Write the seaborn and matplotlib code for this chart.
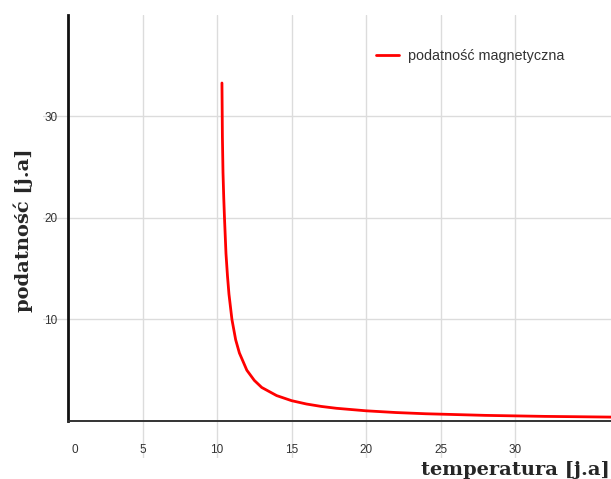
import matplotlib
matplotlib.use('Agg')
import matplotlib.pyplot as plt
import matplotlib.transforms as mtransforms
import seaborn as sns
import pandas as pd

# podatnosc magnetyczna vs temperatura
temperatura = [10.33, 10.36, 10.40, 10.45, 10.50, 10.60, 10.70, 10.80, 11.0, 11.25,
               11.5, 12.0, 12.5, 13.0, 14.0, 15.0, 16.0, 17.0, 18.0, 20.0,
               22.0, 24.0, 26.0, 28.0, 30.0, 32.0, 34.0, 36.5]
podatnosc = [33.3, 28.0, 24.5, 22.0, 20.0, 16.5, 14.3, 12.5, 10.0, 8.0,
             6.7, 5.0, 4.0, 3.3, 2.5, 2.0, 1.67, 1.43, 1.25, 1.0,
             0.83, 0.71, 0.63, 0.55, 0.5, 0.45, 0.42, 0.38]
x_ticks = [0, 5, 10, 15, 20, 25, 30]
y_ticks = [10, 20, 30]

df = pd.DataFrame({'T': temperatura, 'chi': podatnosc})

sns.set_style('white')
plt.rcParams['font.family'] = ['Liberation Sans', 'DejaVu Sans']

fig = plt.figure(figsize=(6.11, 4.79), dpi=100)
ax = fig.add_axes([43/611, 21/479, 568/611, 443/479])

sns.lineplot(data=df, x='T', y='chi', color='#ff0000', linewidth=2,
             label='podatność magnetyczna', ax=ax)

ax.set_xlim(-1.68, 36.44)
ax.set_ylim(-3.65, 40)

ax.set_xticks(x_ticks)
ax.set_yticks(y_ticks)
# siatka: poziome linie z osi, pionowe recznie (bez linii przy 0)
ax.grid(True, axis='y', color='#dcdcdc', linewidth=1)
for xv in x_ticks[1:]:
    ax.axvline(xv, color='#dcdcdc', linewidth=1, zorder=0)
ax.set_axisbelow(True)

for s in ['top', 'right']:
    ax.spines[s].set_visible(False)
ax.spines['left'].set_position(('data', 0))
ax.spines['bottom'].set_position(('data', 0))
ax.spines['left'].set_bounds(0, 40)
ax.spines['bottom'].set_bounds(0, 36.44)
ax.spines['left'].set_linewidth(2)
ax.spines['bottom'].set_linewidth(1.4)
ax.spines['left'].set_color('#111111')
ax.spines['bottom'].set_color('#333333')

ax.tick_params(axis='x', direction='inout', length=5, width=1.5, pad=14,
               labelsize=8.5, labelcolor='#333333', color='#111111')
ax.tick_params(axis='y', direction='inout', length=5, width=1.5, pad=5,
               labelsize=8.5, labelcolor='#333333', color='#111111')

# etykieta "0" troche przesunieta w prawo
lab0 = ax.get_xticklabels()[0]
lab0.set_transform(lab0.get_transform() +
                   mtransforms.ScaledTranslation(7/100, 0, fig.dpi_scale_trans))

ax.set_xlabel('')
ax.set_ylabel('')
fig.text(23/611, 1 - 230/479, 'podatność [j.a]', rotation=90, ha='center', va='center',
         fontsize=14, fontweight='bold', family=['DejaVu Serif'])
fig.text(515/611, 1 - 470/479, 'temperatura [j.a]', ha='center', va='center',
         fontsize=14, fontweight='bold', family=['DejaVu Serif'])

ax.legend(loc='upper left', bbox_to_anchor=(376/611, 1 - 49/479),
          bbox_transform=fig.transFigure, frameon=False, fontsize=10.4,
          borderpad=0, borderaxespad=0, handlelength=1.6, handletextpad=0.6)
for t in ax.get_legend().get_texts():
    t.set_color('#333333')

fig.savefig('out.png', dpi=100)
